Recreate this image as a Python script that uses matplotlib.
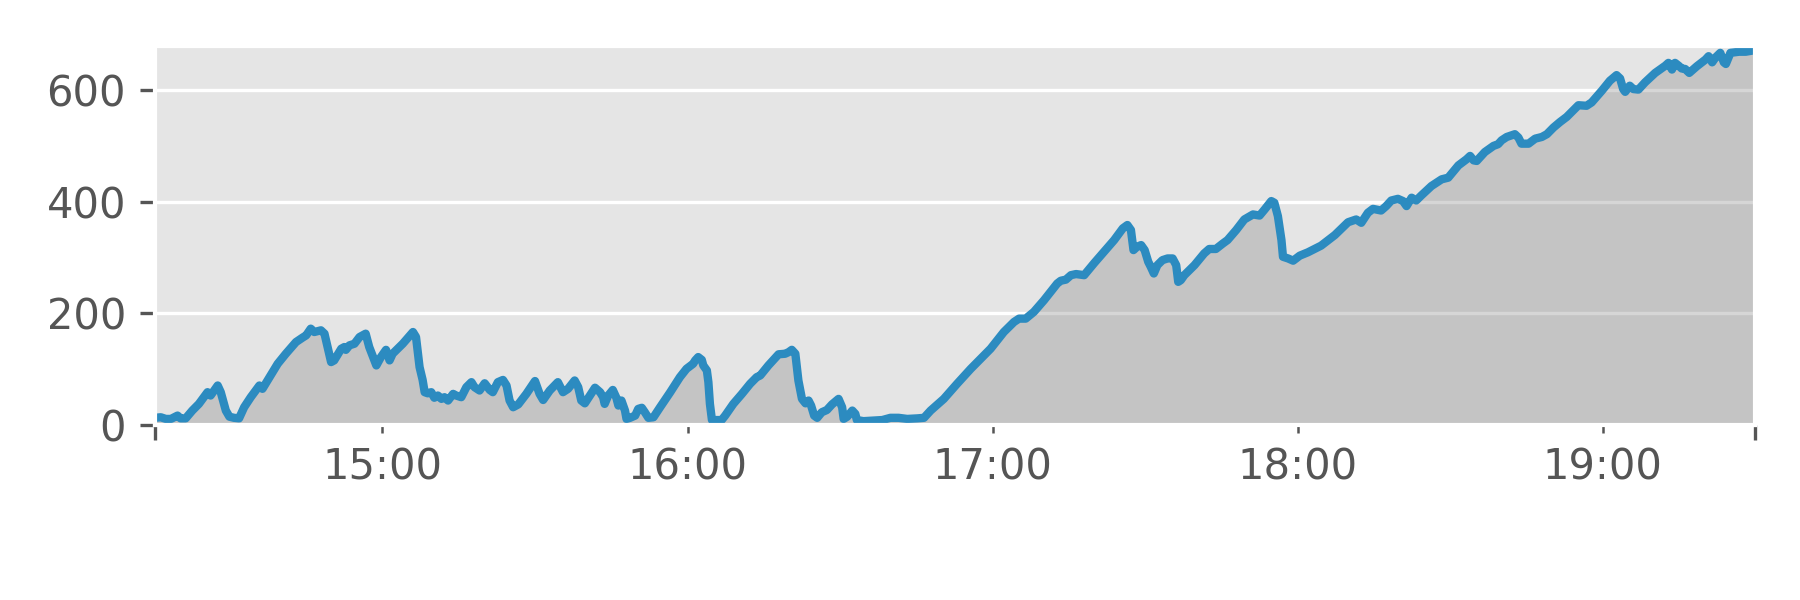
import numpy as np
import pandas as pd
import matplotlib
matplotlib.use('Agg')
import matplotlib.pyplot as plt
import matplotlib.dates as mdates
from matplotlib.ticker import FixedLocator, NullFormatter

# minutes after 14:00 and the value read at that time
minutes = [15.3, 16.4, 17.4, 18.4, 19.7, 20.3, 21.3, 22.6, 23.9, 25.6, 26.2, 27.6, 28.2, 29.2, 29.9,
           30.8, 31.8, 32.8, 34.1, 35.8, 36.4, 37.4, 39.4, 41.0, 43.0, 44.3, 45.0, 45.9, 46.6, 47.9,
           48.6, 49.9, 50.5, 51.9, 52.5, 52.8, 53.5, 54.5, 55.5, 56.7, 57.4, 58.8, 59.7, 60.7, 61.4,
           62.0, 64.0, 66.0, 66.6, 67.3, 67.9, 68.3, 68.9, 69.6, 70.2, 70.9, 71.6, 72.2, 72.9, 73.9,
           74.5, 75.5, 76.5, 77.5, 78.1, 79.1, 80.1, 81.1, 81.7, 82.7, 83.7, 84.4, 85.0, 85.7, 86.7,
           88.3, 90.0, 90.9, 91.6, 92.9, 94.5, 95.5, 96.5, 97.8, 98.5, 99.1, 99.8, 100.8, 101.8, 102.8,
           103.4, 103.7, 104.4, 105.3, 106.0, 106.4, 107.0, 107.7, 108.0, 108.7, 109.7, 110.3, 111.0,
           111.6, 112.3, 113.3, 114.6, 116.6, 118.5, 119.8, 121.1, 121.5, 122.1, 122.8, 123.1, 123.8,
           124.1, 124.4, 124.8, 126.7, 127.4, 129.0, 130.7, 132.3, 133.6, 134.3, 135.9, 137.9, 139.2,
           139.9, 140.5, 141.2, 141.8, 142.5, 143.2, 143.8, 144.3, 144.9, 145.5, 146.4, 147.4, 148.4,
           149.7, 150.4, 150.7, 151.4, 152.4, 153.0, 153.3, 154.6, 156.6, 158.3, 159.9, 161.5, 163.2,
           165.2, 166.5, 167.8, 170.4, 173.0, 175.7, 179.6, 182.2, 184.2, 185.2, 186.5, 188.1, 190.1,
           192.7, 193.4, 194.4, 195.4, 196.4, 198.0, 200.0, 201.9, 203.9, 205.6, 206.5, 207.2, 207.7,
           208.4, 209.2, 209.9, 210.6, 211.1, 211.7, 212.4, 213.4, 214.4, 215.4, 216.1, 216.5, 217.0,
           217.7, 219.7, 221.6, 222.6, 223.9, 225.3, 226.2, 227.9, 229.5, 231.2, 232.5, 233.5, 234.8,
           235.4, 236.1, 236.8, 237.1, 238.1, 239.1, 240.4, 242.0, 244.6, 247.3, 249.9, 251.5, 252.5,
           253.8, 254.8, 256.4, 257.4, 258.4, 259.7, 260.7, 261.4, 262.4, 263.3, 264.3, 266.3, 268.3,
           269.6, 271.6, 273.2, 273.9, 274.6, 275.2, 276.8, 278.5, 279.4, 280.1, 281.1, 282.7, 283.4,
           284.0, 285.4, 286.7, 288.0, 289.0, 290.3, 291.6, 292.9, 295.2, 296.8, 297.8, 299.8, 301.4,
           302.7, 303.4, 304.0, 304.4, 305.3, 306.0, 307.0, 308.3, 310.3, 312.3, 312.9, 313.6, 314.2,
           314.9, 315.5, 316.2, 317.0, 318.5, 320.2, 320.8, 321.5, 322.2, 323.1, 323.8, 324.2, 325.1,
           326.8, 328.1, 329.4, 330.0]
values = [12, 13, 10, 10, 16, 11, 11, 25, 37, 58, 52, 70, 58, 25, 14,
          12, 11, 31, 49, 70, 64, 79, 109, 127, 148, 156, 160, 172, 166, 169,
          163, 112, 115, 136, 139, 134, 142, 145, 157, 163, 139, 106, 121, 134, 115,
          127, 145, 166, 157, 103, 80, 58, 56, 58, 48, 52, 46, 49, 43, 55,
          52, 49, 67, 76, 67, 61, 74, 62, 58, 76, 80, 70, 43, 31, 36,
          55, 78, 55, 44, 61, 76, 58, 64, 79, 67, 43, 38, 52, 66, 58,
          49, 37, 52, 62, 48, 34, 43, 25, 10, 12, 16, 28, 30,
          22, 12, 13, 31, 58, 85, 100, 109, 115, 121, 116, 106, 97,
          76, 37, 8, 8, 16, 37, 55, 73, 85, 88, 106, 126, 127,
          130, 134, 127, 79, 46, 38, 43, 34, 16, 12, 22, 26, 36,
          46, 31, 10, 14, 25, 19, 8, 6, 7, 8, 12, 12, 10,
          11, 12, 25, 46, 73, 100, 136, 166, 184, 190, 190, 202, 223,
          253, 258, 260, 268, 270, 268, 290, 310, 331, 352, 358, 349, 313,
          319, 322, 313, 292, 283, 271, 286, 295, 298, 298, 286, 256, 259,
          268, 286, 307, 315, 315, 325, 331, 349, 368, 377, 375, 386, 401,
          398, 374, 331, 301, 298, 294, 303, 309, 321, 340, 363, 368, 362,
          380, 387, 384, 392, 402, 405, 401, 392, 407, 402, 411, 428, 440,
          443, 465, 476, 482, 474, 473, 489, 500, 503, 510, 516, 521, 515,
          504, 504, 513, 516, 521, 533, 543, 552, 573, 572, 578, 599, 617,
          627, 621, 602, 597, 608, 602, 601, 614, 631, 644, 649, 637, 649,
          644, 639, 638, 631, 643, 655, 661, 650, 659, 667, 650, 647, 667,
          669, 669, 671, 674]
y_ticks = [0, 200, 400, 600]

plt.style.use('ggplot')

times = (pd.Timestamp('2020-01-01 14:00') + pd.to_timedelta(minutes, unit='min')).to_pydatetime()

fig = plt.figure(figsize=(6, 2), dpi=300)
ax = fig.add_axes([0.0862, 0.2925, 0.889, 0.6315])

ax.fill_between(times, values, color='gray', alpha=0.32, lw=0)
ax.plot(times, values, color='#2c8bc0', lw=2)

ax.set_xlim(times[0], times[-1])
ax.set_ylim(0, 680)
ax.set_yticks(y_ticks)

# long unlabelled ticks at the ends, hourly labels on minor ticks
ax.xaxis.set_major_locator(FixedLocator([mdates.date2num(times[0]), mdates.date2num(times[-1])]))
ax.xaxis.set_major_formatter(NullFormatter())
ax.xaxis.set_minor_locator(mdates.HourLocator())
ax.xaxis.set_minor_formatter(mdates.DateFormatter('%H:%M'))
ax.grid(axis='x', visible=False)

fig.savefig('out.png', dpi=300)
